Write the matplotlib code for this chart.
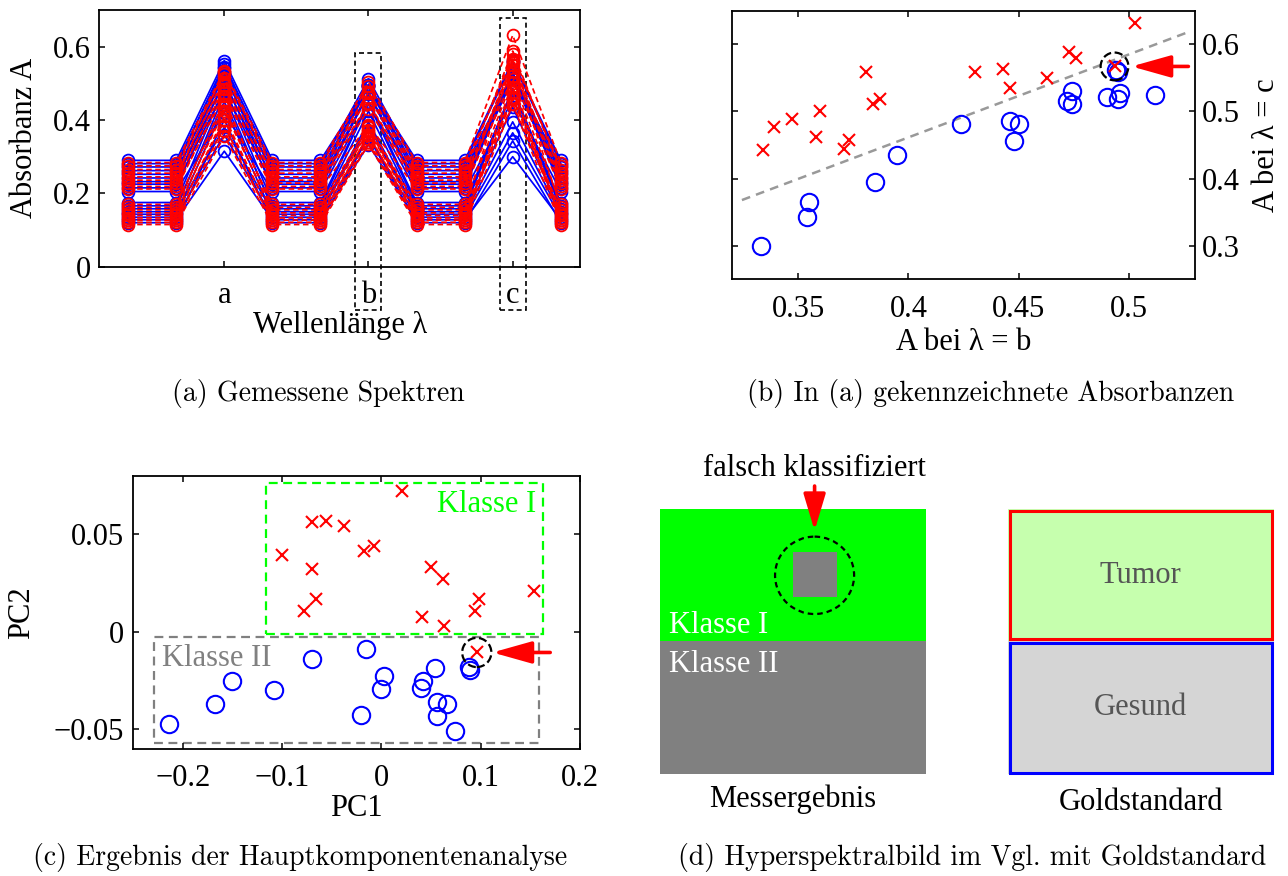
import matplotlib
matplotlib.use("Agg")
import matplotlib.pyplot as plt
from matplotlib import ticker
from matplotlib.patches import Rectangle, Ellipse
from matplotlib.colors import ListedColormap
import numpy as np

plt.rcParams['font.family'] = ['Liberation Serif', 'DejaVu Serif']
plt.rcParams['font.size'] = 22

# --- data: spectra (a) and scatter (b) share the peak values ---
wavelength_pos = [1, 2, 3, 4, 5, 6, 7, 8, 9, 10]
wavelength_ticks = [3, 6, 9]
wavelength_labels = ['a', 'b', 'c']

blue_base = [0.128, 0.120, 0.135, 0.143, 0.150, 0.158, 0.166, 0.175, 0.205,
             0.215, 0.225, 0.232, 0.242, 0.252, 0.262, 0.272, 0.281, 0.290]
blue_a = [0.315, 0.40, 0.36, 0.44, 0.38, 0.47, 0.45, 0.49, 0.42,
          0.51, 0.48, 0.53, 0.50, 0.543, 0.52, 0.553, 0.545, 0.562]
blue_b = [0.333, 0.354, 0.355, 0.385, 0.395, 0.424, 0.446, 0.450, 0.448,
          0.474, 0.472, 0.474, 0.490, 0.496, 0.495, 0.512, 0.495, 0.494]
blue_c = [0.300, 0.343, 0.365, 0.395, 0.435, 0.481, 0.486, 0.481, 0.456,
          0.530, 0.516, 0.511, 0.521, 0.528, 0.518, 0.525, 0.558, 0.561]

red_base = [0.115, 0.121, 0.127, 0.133, 0.140, 0.147, 0.155, 0.162, 0.170,
            0.212, 0.219, 0.228, 0.236, 0.245, 0.255, 0.265, 0.275, 0.284]
red_a = [0.356, 0.385, 0.37, 0.41, 0.40, 0.435, 0.425, 0.455, 0.445,
         0.475, 0.465, 0.495, 0.485, 0.515, 0.505, 0.53, 0.525, 0.534]
red_b = [0.334, 0.339, 0.347, 0.360, 0.358, 0.371, 0.373, 0.381, 0.384,
         0.387, 0.430, 0.443, 0.446, 0.463, 0.473, 0.476, 0.4935, 0.503]
red_c = [0.443, 0.477, 0.489, 0.501, 0.462, 0.444, 0.457, 0.558, 0.511,
         0.519, 0.558, 0.563, 0.535, 0.550, 0.588, 0.579, 0.567, 0.631]

boundary_x = [0.3245, 0.526]
boundary_y = [0.368, 0.617]
wrong_b, wrong_c = 0.4935, 0.567

# --- data: PCA result (c) ---
blue_pc1 = [-0.2138, -0.1674, -0.1505, -0.1078, -0.0700, -0.0155, -0.0202, 0.0023, -0.0003,
            0.0421, 0.0394, 0.0542, 0.0556, 0.0657, 0.0563, 0.0737, 0.0882, 0.0889]
blue_pc2 = [-0.0472, -0.0370, -0.0254, -0.0300, -0.0137, -0.0087, -0.0428, -0.0225, -0.0292,
            -0.0254, -0.0288, -0.0184, -0.0360, -0.0372, -0.0433, -0.0507, -0.0178, -0.0194]
red_pc1 = [0.0202, -0.0700, -0.0563, -0.0381, -0.1003, -0.0172, -0.0078, -0.0700, 0.0502,
           0.0623, -0.0657, -0.0778, 0.0411, 0.0629, 0.0987, 0.0939, 0.1539, 0.0960]
red_pc2 = [0.0722, 0.0565, 0.0568, 0.0544, 0.0393, 0.0415, 0.0440, 0.0321, 0.0334,
           0.0270, 0.0170, 0.0107, 0.0077, 0.0032, 0.0169, 0.0106, 0.0211, -0.0106]
wrong_pc1, wrong_pc2 = 0.0960, -0.0106
klasse1_box = (-0.116, -0.001, 0.163, 0.0766)   # x0, y0, x1, y1
klasse2_box = (-0.229, -0.0573, 0.159, -0.0027)

# --- data: class map (d) ---
class_map = np.array([[1, 1, 1, 1, 1, 1],
                      [1, 1, 1, 2, 1, 1],
                      [1, 1, 1, 1, 1, 1],
                      [2, 2, 2, 2, 2, 2],
                      [2, 2, 2, 2, 2, 2],
                      [2, 2, 2, 2, 2, 2]])
gold_map = np.array([[1] * 6] * 3 + [[2] * 6] * 3)

fig = plt.figure(figsize=(12.88, 8.76), dpi=100)
W, H = 1288.0, 876.0


def add_ax(l, t, r, b):
    return fig.add_axes([l / W, 1 - b / H, (r - l) / W, (b - t) / H])


def fmt(v, p):
    return ('%g' % v).replace('-', '\u2212')


def style(ax):
    for s in ax.spines.values():
        s.set_linewidth(1.3)
    ax.tick_params(direction='in', length=4.5, width=1.1, top=True, right=True)


# ----- (a) spectra -----
axa = add_ax(99.3, 10, 580, 266.7)
for base, pa, pb, pc in zip(blue_base, blue_a, blue_b, blue_c):
    y = [base, base, pa, base, base, pb, base, base, pc, base]
    axa.plot(wavelength_pos, y, '-', color='#0000ff', lw=1.25,
             marker='o', ms=8.5, mfc='none', mew=1.3)
for base, pa, pb, pc in zip(red_base, red_a, red_b, red_c):
    y = [base, base, pa, base, base, pb, base, base, pc, base]
    axa.plot(wavelength_pos, y, color='#ff0000', lw=1.25, ls=(0, (3.2, 2.0)),
             marker='o', ms=8.5, mfc='none', mew=1.3)
axa.set_xlim(0.4, 10.4)
axa.set_ylim(0, 0.7)
axa.set_xticks(wavelength_ticks)
axa.set_xticklabels(wavelength_labels)
axa.set_yticks([0, 0.2, 0.4, 0.6])
axa.yaxis.set_major_formatter(ticker.FuncFormatter(fmt))
style(axa)
axa.tick_params(axis='x', pad=10)
axa.tick_params(axis='y', pad=6)
axa.set_xlabel('Wellenlänge λ', labelpad=1)
axa.set_ylabel('Absorbanz A', labelpad=10)
for x0, x1, y1 in [(5.72, 6.27, 0.583), (8.73, 9.27, 0.678)]:
    axa.add_patch(Rectangle((x0, -0.119), x1 - x0, y1 + 0.119, fill=False,
                            ec='black', lw=1.2, ls=(0, (3, 2)), clip_on=False))

# ----- (b) scatter at b and c -----
axb = add_ax(732, 10.7, 1195, 279.3)
axb.plot(boundary_x, boundary_y, color='#999999', lw=1.8, ls=(0, (3.5, 2.5)))
axb.plot(blue_b, blue_c, 'o', color='#0000ff', ms=12.5, mfc='none', mew=1.5)
axb.plot(red_b, red_c, 'x', color='#ff0000', ms=8.5, mew=1.5)
axb.scatter([wrong_b], [wrong_c], s=20 ** 2, facecolors='none', edgecolors='black',
            linestyles='--', linewidths=1.6, zorder=5)
axb.annotate('', xy=(0.5012, wrong_c), xytext=(0.527, wrong_c),
             arrowprops=dict(arrowstyle='-|>,head_length=1.6,head_width=0.45',
                             mutation_scale=15, color='#ff0000', lw=2.6,
                             shrinkA=0, shrinkB=0))
axb.set_xlim(0.32, 0.53)
axb.set_ylim(0.25, 0.65)
axb.set_xticks([0.35, 0.4, 0.45, 0.5])
axb.set_yticks([0.3, 0.4, 0.5, 0.6])
axb.xaxis.set_major_formatter(ticker.FuncFormatter(fmt))
axb.yaxis.set_major_formatter(ticker.FuncFormatter(fmt))
style(axb)
axb.tick_params(axis='y', labelleft=False, labelright=True, pad=5)
axb.tick_params(axis='x', pad=11)
axb.yaxis.set_label_position('right')
axb.set_xlabel('A bei λ = b', labelpad=3)
axb.set_ylabel('A bei λ = c', labelpad=9)

# ----- (c) PCA -----
axc = add_ax(133.3, 476, 580, 748.7)
x0, y0, x1, y1 = klasse1_box
axc.add_patch(Rectangle((x0, y0), x1 - x0, y1 - y0, fill=False, ec='#00ff00',
                        lw=1.6, ls=(0, (4, 2.5))))
x0, y0, x1, y1 = klasse2_box
axc.add_patch(Rectangle((x0, y0), x1 - x0, y1 - y0, fill=False, ec='#808080',
                        lw=1.6, ls=(0, (4, 2.5))))
axc.plot(blue_pc1, blue_pc2, 'o', color='#0000ff', ms=12.5, mfc='none', mew=1.5)
axc.plot(red_pc1, red_pc2, 'x', color='#ff0000', ms=8, mew=1.5)
axc.scatter([wrong_pc1], [wrong_pc2], s=21 ** 2, facecolors='none', edgecolors='black',
            linestyles='--', linewidths=1.6, zorder=5)
axc.annotate('', xy=(0.1118, wrong_pc2), xytext=(0.170, wrong_pc2),
             arrowprops=dict(arrowstyle='-|>,head_length=1.6,head_width=0.45',
                             mutation_scale=15, color='#ff0000', lw=2.6,
                             shrinkA=0, shrinkB=0))
axc.text(0.1556, 0.0616, 'Klasse I', color='#00ff00', ha='right', va='baseline')
axc.text(-0.2215, -0.0174, 'Klasse II', color='#808080', ha='left', va='baseline')
axc.set_xlim(-0.25, 0.2)
axc.set_ylim(-0.06, 0.08)
axc.set_xticks([-0.2, -0.1, 0, 0.1, 0.2])
axc.set_yticks([-0.05, 0, 0.05])
axc.xaxis.set_major_formatter(ticker.FuncFormatter(fmt))
axc.yaxis.set_major_formatter(ticker.FuncFormatter(fmt))
style(axc)
axc.tick_params(axis='x', pad=11)
axc.tick_params(axis='y', pad=7)
axc.set_xlabel('PC1', labelpad=1)
axc.set_ylabel('PC2', labelpad=12)

# ----- (d) class map vs gold standard -----
axd1 = add_ax(660, 509, 925, 774.3)
axd1.imshow(class_map, cmap=ListedColormap(['#00ff00', '#808080']),
            extent=(0, 6, 6, 0), interpolation='nearest', aspect='auto')
axd1.set_axis_off()
axd1.add_patch(Ellipse((3.5, 1.5), 1.79, 1.75, fill=False, ec='black', lw=1.6,
                       ls=(0, (2.5, 1.8))))
axd1.annotate('', xy=(3.5, 0.49), xytext=(3.5, -0.52), annotation_clip=False,
              arrowprops=dict(arrowstyle='-|>,head_length=1.5,head_width=0.45',
                              mutation_scale=15, color='#ff0000', lw=2.6,
                              shrinkA=0, shrinkB=0))
axd1.text(3.5, -0.75, 'falsch klassifiziert', ha='center', va='baseline')
axd1.text(0.21, 2.80, 'Klasse I', color='white', ha='left', va='baseline')
axd1.text(0.21, 3.68, 'Klasse II', color='white', ha='left', va='baseline')
axd1.text(3.0, 6.74, 'Messergebnis', ha='center', va='baseline')

axd2 = add_ax(1008, 509, 1273.3, 774.3)
axd2.imshow(gold_map, cmap=ListedColormap(['#c6ffae', '#d5d5d5']),
            extent=(0, 6, 6, 0), interpolation='nearest', aspect='auto')
axd2.set_axis_off()
axd2.add_patch(Rectangle((0.04, 0.04), 5.92, 2.9, fill=False, ec='#ff0000',
                         lw=2.2, clip_on=False))
axd2.add_patch(Rectangle((0.04, 3.04), 5.92, 2.92, fill=False, ec='#0000ff',
                         lw=2.2, clip_on=False))
axd2.text(3.0, 1.5, 'Tumor', color='#555555', ha='center', va='center')
axd2.text(3.0, 4.5, 'Gesund', color='#555555', ha='center', va='center')
axd2.text(3.0, 6.81, 'Goldstandard', ha='center', va='baseline')

# ----- captions -----
cap = dict(fontfamily='cmr10', fontsize=20, ha='center', va='center')
fig.text(318 / W, 1 - 393 / H, '(a) Gemessene Spektren', **cap)
fig.text(991 / W, 1 - 393 / H, '(b) In (a) gekennzeichnete Absorbanzen', **cap)
fig.text(300 / W, 1 - 857 / H, '(c) Ergebnis der Hauptkomponentenanalyse', **cap)
fig.text(972 / W, 1 - 857 / H, '(d) Hyperspektralbild im Vgl. mit Goldstandard', **cap)

fig.savefig('out.png', dpi=100)
